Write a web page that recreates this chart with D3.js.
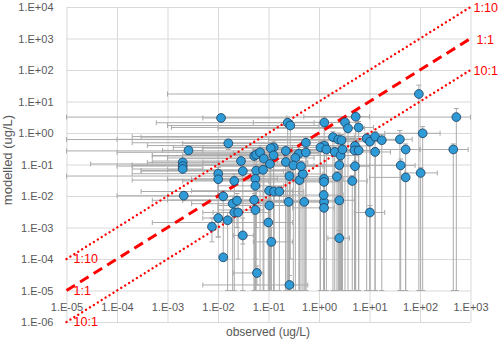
<!DOCTYPE html>
<html>
<head>
<meta charset="utf-8">
<script src="https://cdn.jsdelivr.net/npm/d3@7"></script>
<style>
  body { margin: 0; background: #fff; }
  svg { font-family: "Liberation Sans", Arial, sans-serif; }
</style>
</head>
<body>
<script>
// observed / modelled concentrations (ug/L)
var observed = [0.0115,0.016,0.0026,0.002,0.002,0.002,0.0285,0.0101,0.0101,0.031,
  0.021,0.052,0.057,0.068,0.057,0.055,0.055,0.0021,0.0127,0.0195,
  0.0238,0.021,0.025,0.0101,0.0155,0.0076,0.031,0.0127,0.059,0.052,
  0.055,0.26,0.114,0.099,0.104,0.103,0.129,0.164,0.25,0.51,
  1.26,1.26,1.24,2.52,2.52,10.2,1.26,1.26,0.41,0.48,
  0.26,2.27,0.24,0.27,1.27,3.27,3.75,5.33,6.1,1.89,
  2.41,2.79,1.27,1.07,1.40,0.55,0.40,0.34,0.55,0.22,
  0.127,0.111,0.126,0.081,0.107,0.22,0.31,0.44,0.078,2.52,
  2.05,2.67,2.92,5.16,5.05,6.1,5.16,4.56,8.8,10.2,
  95,524,113,12.9,17.5,40,12.9,52,456,41.5,
  52,103];

var modelled = [3.0,0.47,0.28,0.117,0.089,0.072,0.129,0.051,0.034,0.062,
  0.030,0.186,0.205,0.244,0.064,0.035,0.021,0.0102,0.0098,0.0057,
  0.0071,0.0030,0.0030,0.0020,0.0017,0.00106,0.00056,0.000113,0.000036,0.0075,
  0.0036,0.000015,0.00035,0.00144,0.005,0.0147,0.0139,0.0139,0.0065,0.0065,
  0.0065,0.0042,0.0107,0.0073,0.00046,0.003,0.035,0.028,0.032,0.05,
  0.043,0.041,2.12,1.73,2.15,2.18,1.41,3.29,1.5,0.74,
  0.62,0.59,0.40,0.35,0.30,0.49,0.22,0.161,0.24,0.27,
  0.35,0.33,0.196,0.153,0.104,0.12,0.094,0.088,0.068,0.096,
  0.25,0.193,0.30,0.39,0.28,0.28,0.088,0.030,0.67,0.53,
  17.3,3.2,0.98,0.77,0.59,0.63,0.25,0.30,0.30,0.094,
  0.039,0.054];

// error bar ranges
var observedLow = [0.005,0.002,0.0008,0.0004,0.0001,0.0002,0.0005,0.0002,0.001,0.0003,
  0.002,0.0005,0.002,0.0001,0.0003,0.003,0.01,0.0001,0.001,0.003,
  0.002,0.005,0.008,0.005,0.01,0.0076,0.02,0.0127,0.02,0.001,
  0.01,0.005,0.05,0.0005,0.01,0.003,0.0003,0.01,0.02,0.05,
  0.1,0.3,0.2,0.0005,1.5,5,0.01,0.05,0.0002,0.01,
  1e-5,0.01,0.0006,0.001,0.05,0.3,0.01,0.5,0.0012,0.0003,
  1e-5,0.1,0.0004,0.003,0.1,0.0002,0.003,0.001,0.02,1e-5,
  0.0013,0.005,0.01,0.002,3e-5,0.005,0.0002,0.01,0.001,0.0002,
  0.3,0.0005,0.05,1,0.3,2,0.5,0.5,2,2,
  0.001,1e-5,20,0.0002,5,0.0001,3,10,100,5,
  10,50];

var observedHigh = [0.23,0.1,0.005,0.01,0.005,0.005,0.15,0.05,0.03,0.2,
  0.1,0.3,0.2,0.5,0.3,0.15,0.2,0.01,0.3,0.1,
  0.2,0.05,0.1,0.02,0.02,0.0076,0.05,0.0127,0.08,0.1,
  0.08,0.6,0.3,0.3,0.3,0.3,0.4,0.5,0.6,1.5,
  3,2,3,5,4,20,3,2.5,1,1.2,
  0.6,5,0.8,1,3,6,8,10,12,5,
  6,6,3,2.5,3,1.5,1,0.8,1.5,0.6,
  0.4,0.3,0.4,0.25,0.3,0.6,0.8,1.2,0.25,5,
  5,6,7,10,10,12,10,9,15,20,
  95,1000,250,20,35,70,26,100,900,80,
  52,220];

var modelledLow = [3.0,0.3,0.28,0.117,0.089,0.072,0.05,5e-4,0.01,1e-5,
  0.005,1e-5,1e-3,1e-5,1e-5,1e-4,1e-5,0.0102,1e-4,1e-5,
  1e-3,1e-5,1e-4,5e-4,1e-5,3.5e-4,3e-4,0.000113,1.5e-5,1e-5,
  1e-5,1e-5,1e-5,1e-5,1e-5,1e-5,1e-5,1e-5,1e-5,1e-5,
  1e-5,1e-5,1e-4,1e-5,1e-5,1e-5,1e-5,1e-5,1e-5,1e-5,
  1e-5,1e-5,1e-5,1e-4,1e-5,1e-5,1e-5,1e-5,1e-5,1e-5,
  1e-5,1e-5,1e-5,1e-5,1e-5,1e-5,1e-5,1e-5,1e-5,1e-5,
  1e-5,1e-5,1e-5,1e-5,1e-5,1e-5,1e-5,1e-5,1e-5,1e-5,
  1e-5,1e-5,1e-5,1e-5,1e-5,1e-5,1e-5,1e-5,1e-5,1e-5,
  1e-5,1e-5,1e-5,1e-5,1e-5,1e-5,1e-5,1e-5,1e-5,1e-5,
  1e-5,1e-5];

var modelledHigh = [3.0,0.6,0.28,0.117,0.089,0.072,0.2,0.08,0.05,0.1,
  0.05,0.3,0.3,0.4,0.1,0.06,0.04,0.0102,0.015,0.01,
  0.012,0.005,0.005,0.003,0.003,0.002,0.002,0.000113,6e-5,0.012,
  0.005,3e-5,1e-3,0.003,0.008,0.02,0.02,0.02,0.01,0.01,
  0.01,0.007,0.015,0.01,8e-4,0.005,0.05,0.04,0.05,0.08,
  0.07,0.06,3.2,2.5,3.2,3.3,2.2,5,2.3,1.1,
  1,0.9,0.6,0.55,0.45,0.75,0.35,0.25,0.35,0.4,
  0.55,0.5,0.3,0.25,0.16,0.18,0.15,0.13,0.1,0.15,
  0.4,0.3,0.45,0.6,0.4,0.4,0.13,0.045,1,0.8,
  33,6,1.6,1.1,0.9,1.2,0.35,0.45,0.45,0.15,
  0.05,0.08];

var xTicks = [1e-5,1e-4,1e-3,1e-2,1e-1,1e0,1e1,1e2,1e3];
var xTickLabels = ["1.E-05","1.E-04","1.E-03","1.E-02","1.E-01","1.E+00","1.E+01","1.E+02","1.E+03"];
var yTicks = [1e-6,1e-5,1e-4,1e-3,1e-2,1e-1,1e0,1e1,1e2,1e3,1e4];
var yTickLabels = ["1.E-06","1.E-05","1.E-04","1.E-03","1.E-02","1.E-01","1.E+00","1.E+01","1.E+02","1.E+03","1.E+04"];

// reference lines: modelled = observed * factor
var refNames = ["1:10","1:1","10:1"];
var refFactors = [10, 1, 0.1];

var width = 498, height = 341;
var svg = d3.select('body').append('svg').attr('width', width).attr('height', height);

var x = d3.scaleLog().domain([1e-5, 1e3]).range([66.5, 470.5]);
var y = d3.scaleLog().domain([1e-6, 1e4]).range([322, 7]);

var gridColor = '#d9d9d9';
var textColor = '#595959';

// gridlines
var vgrid = svg.append('g')
  .attr('transform', 'translate(0,' + y(1e-6) + ')')
  .call(d3.axisBottom(x).tickValues(xTicks).tickFormat('').tickSize(-(y(1e-6) - y(1e4))));
var hgrid = svg.append('g')
  .attr('transform', 'translate(' + x(1e-5) + ',0)')
  .call(d3.axisLeft(y).tickValues(yTicks).tickFormat('').tickSize(-(x(1e3) - x(1e-5))));
[vgrid, hgrid].forEach(function(g) {
  g.select('.domain').remove();
  g.selectAll('line').attr('stroke', gridColor).attr('stroke-width', 1);
});

// tick labels
var yAxis = svg.append('g')
  .attr('transform', 'translate(' + x(1e-5) + ',0)')
  .call(d3.axisLeft(y).tickValues(yTicks).tickSize(0).tickPadding(13)
    .tickFormat(function(d, i) { return yTickLabels[i]; }));
var xAxis = svg.append('g')
  .attr('transform', 'translate(0,' + y(1e-5) + ')')
  .call(d3.axisBottom(x).tickValues(xTicks).tickSize(0).tickPadding(13)
    .tickFormat(function(d, i) { return xTickLabels[i]; }));
[yAxis, xAxis].forEach(function(g) {
  g.select('.domain').remove();
  g.selectAll('text').attr('fill', textColor).style('font-size', '11px')
    .style('font-family', '"Liberation Sans", Arial, sans-serif');
});

// error bars
var errColor = '#ababab';
var cap = 2.5;
var err = svg.append('g').attr('stroke', errColor).attr('stroke-width', 1).attr('fill', 'none');
observed.forEach(function(o, i) {
  var m = modelled[i];
  var cy = y(m), cx = x(o);
  if (observedLow[i] < o) {
    err.append('line').attr('x1', x(observedLow[i])).attr('x2', cx).attr('y1', cy).attr('y2', cy);
    err.append('line').attr('x1', x(observedLow[i])).attr('x2', x(observedLow[i])).attr('y1', cy - cap).attr('y2', cy + cap);
  }
  if (observedHigh[i] > o) {
    err.append('line').attr('x1', cx).attr('x2', x(observedHigh[i])).attr('y1', cy).attr('y2', cy);
    err.append('line').attr('x1', x(observedHigh[i])).attr('x2', x(observedHigh[i])).attr('y1', cy - cap).attr('y2', cy + cap);
  }
  if (modelledLow[i] < m) {
    err.append('line').attr('x1', cx).attr('x2', cx).attr('y1', cy).attr('y2', y(modelledLow[i]));
    err.append('line').attr('x1', cx - cap).attr('x2', cx + cap).attr('y1', y(modelledLow[i])).attr('y2', y(modelledLow[i]));
  }
  if (modelledHigh[i] > m) {
    err.append('line').attr('x1', cx).attr('x2', cx).attr('y1', cy).attr('y2', y(modelledHigh[i]));
    err.append('line').attr('x1', cx - cap).attr('x2', cx + cap).attr('y1', y(modelledHigh[i])).attr('y2', y(modelledHigh[i]));
  }
});

// reference lines
var refLine = d3.line().x(function(d) { return x(d[0]); }).y(function(d) { return y(d[1]); });
refFactors.forEach(function(f, i) {
  var pts = [[1e-5, 1e-5 * f], [1e3, 1e3 * f]];
  var p = svg.append('path').attr('d', refLine(pts))
    .attr('fill', 'none').attr('stroke', '#ff0000');
  if (f === 1) {
    p.attr('stroke-width', 3).attr('stroke-dasharray', '10,6');
  } else {
    p.attr('stroke-width', 2.4).attr('stroke-linecap', 'round').attr('stroke-dasharray', '0.01,4.6');
  }
  svg.append('text').attr('x', x(1e-5) + 7).attr('y', y(1e-5 * f)).attr('dy', '0.35em')
    .attr('fill', '#ff0000').style('font-size', '12.5px').text(refNames[i]);
  svg.append('text').attr('x', x(1e3) + (f === 1 ? 6 : 3)).attr('y', y(1e3 * f) + 1).attr('dy', '0.35em')
    .attr('fill', '#ff0000').style('font-size', '12.5px').text(refNames[i]);
});

// points
svg.append('g').selectAll('circle').data(observed).enter().append('circle')
  .attr('cx', function(d) { return x(d); })
  .attr('cy', function(d, i) { return y(modelled[i]); })
  .attr('r', 4.4)
  .attr('fill', '#2e9ad6')
  .attr('stroke', '#1c3c5a')
  .attr('stroke-width', 0.8);

// axis titles
svg.append('text').attr('x', (x(1e-5) + x(1e3)) / 2 - 0.5).attr('y', 336)
  .attr('text-anchor', 'middle').attr('fill', textColor).style('font-size', '12px')
  .text('observed (ug/L)');
svg.append('text').attr('transform', 'translate(12,160) rotate(-90)')
  .attr('text-anchor', 'middle').attr('fill', textColor).style('font-size', '13px')
  .text('modelled (ug/L)');
</script>
</body>
</html>
